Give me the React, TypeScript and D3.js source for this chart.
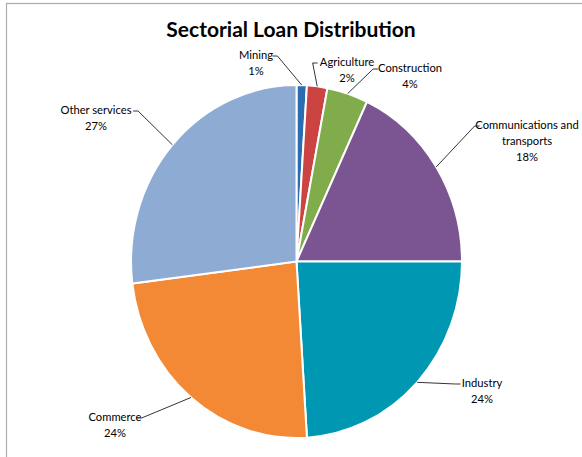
import React from "react";
import * as d3 from "d3";

const categories = ["Mining", "Agriculture", "Construction", "Communications and transports", "Industry", "Commerce", "Other services"];
const values = [1, 2, 4, 18, 24, 24, 27];
const colors = ["#2B6DB0", "#CB4442", "#80AC4C", "#7B5591", "#0097B2", "#F38935", "#8EACD3"];

// label layout: text lines, text center x, first baseline y, leader start side
const labelLayout = [
  { lines: ["Mining", "1%"], x: 256, y: 59, side: "right" },
  { lines: ["Agriculture", "2%"], x: 347, y: 66, side: "left" },
  { lines: ["Construction", "4%"], x: 410, y: 72, side: "left" },
  { lines: ["Communications and", "transports", "18%"], x: 527, y: 129, side: "left" },
  { lines: ["Industry", "24%"], x: 482, y: 387, side: "left" },
  { lines: ["Commerce", "24%"], x: 115, y: 421, side: "right" },
  { lines: ["Other services", "27%"], x: 96, y: 114, side: "right" },
];

const W = 582;
const H = 457;
const cx = 296.5;
const cy = 261.5;
const rx = 165.5;
const ry = 176.5;

export default function App() {
  const pie = d3.pie<number>().sort(null).value((d) => d);
  const arcs = pie(values);
  const arc = d3.arc<d3.PieArcDatum<number>>().innerRadius(0).outerRadius(1);
  const font = "Lato, 'Open Sans', sans-serif";
  const fs = 11.2;

  const measure = (s: string) => s.length * fs * 0.46;

  return (
    <svg width={W} height={H} style={{ position: "absolute", left: 0, top: 0, background: "#fff" }}>
      <rect x={6.5} y={3.5} width={W + 10} height={H + 10} fill="#fff" stroke="#ababab" strokeWidth={1.2} />
      <text x={291} y={37} textAnchor="middle" fontFamily={font} fontWeight={700} fontSize={21} fill="#000">
        Sectorial Loan Distribution
      </text>
      <g transform={`translate(${cx},${cy}) scale(${rx},${ry})`}>
        {arcs.map((a, i) => (
          <path key={i} d={arc(a) || ""} fill={colors[i]} stroke="#fff" strokeWidth={2} vectorEffect="non-scaling-stroke" />
        ))}
      </g>
      {arcs.map((a, i) => {
        const L = labelLayout[i];
        const mid = (a.startAngle + a.endAngle) / 2;
        const ax = cx + rx * Math.sin(mid);
        const ay = cy - ry * Math.cos(mid);
        const firstW = measure(L.lines[0]);
        const ty = L.y - 3;
        const sx = L.side === "right" ? L.x + firstW / 2 + 1 : L.x - firstW / 2 - 1;
        const hx = L.side === "right" ? sx + 5 : sx - 5;
        return (
          <g key={categories[i]}>
            <polyline points={`${sx},${ty} ${hx},${ty} ${ax},${ay}`} fill="none" stroke="#000" strokeWidth={0.8} />
            <text textAnchor="middle" fontFamily={font} fontSize={fs} fill="#000">
              {L.lines.map((ln, j) => (
                <tspan key={j} x={L.x} y={L.y + j * 16}>{ln}</tspan>
              ))}
            </text>
          </g>
        );
      })}
    </svg>
  );
}
